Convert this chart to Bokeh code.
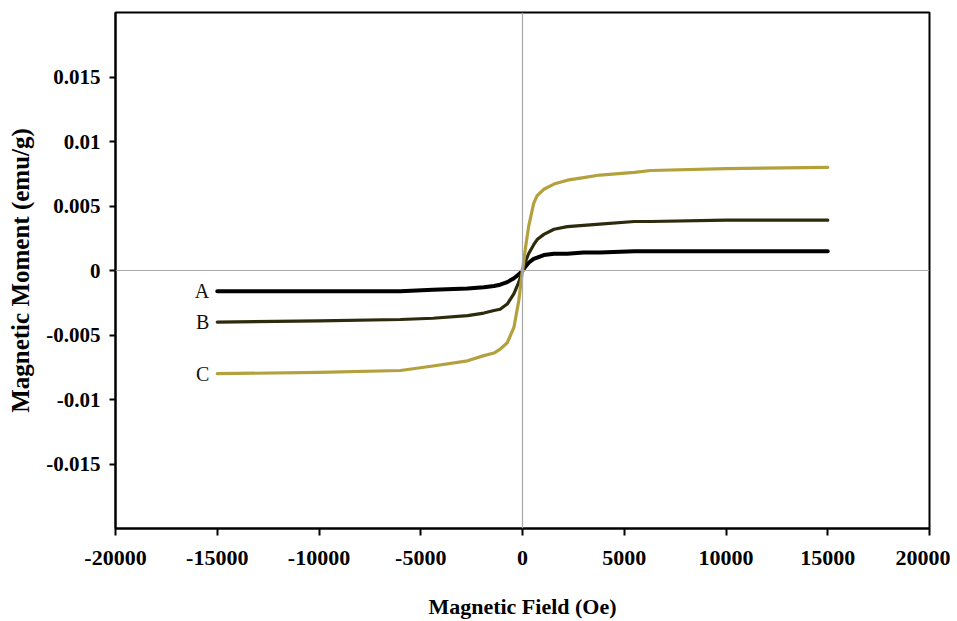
from bokeh.plotting import figure
from bokeh.models import FixedTicker, Span, Range1d
from bokeh.core.properties import value
from bokeh.embed import file_html
from bokeh.resources import INLINE

# Magnetic field (Oe)
field = [-15000, -10000, -6000, -4400, -2700, -1900, -1400, -1100, -750, -420, -180, 0,
         150, 300, 550, 720, 1050, 1550, 2200, 3000, 3800, 5500, 6300, 10000, 15000]

# Magnetic moment (emu/g)
moment_a = [-0.0016, -0.0016, -0.0016, -0.0015, -0.0014, -0.0013, -0.0012, -0.0011, -0.0009,
            -0.0006, -0.0003, 0.0, 0.0003, 0.0006, 0.0009, 0.0010, 0.0012, 0.0013, 0.0013,
            0.0014, 0.0014, 0.0015, 0.0015, 0.0015, 0.0015]
moment_b = [-0.0040, -0.0039, -0.0038, -0.0037, -0.0035, -0.0033, -0.0031, -0.0030, -0.0026,
            -0.0018, -0.0009, 0.0, 0.0007, 0.0013, 0.0020, 0.0024, 0.0028, 0.0032, 0.0034,
            0.0035, 0.0036, 0.0038, 0.0038, 0.0039, 0.0039]
moment_c = [-0.0080, -0.0079, -0.00775, -0.0074, -0.0070, -0.0066, -0.0064, -0.0061, -0.0056,
            -0.0044, -0.0023, 0.0, 0.0018, 0.0034, 0.0052, 0.0058, 0.0063, 0.0067, 0.0070,
            0.0072, 0.0074, 0.0076, 0.00775, 0.0079, 0.0080]

series_names = ["A", "B", "C"]

x_ticks = [-20000, -15000, -10000, -5000, 0, 5000, 10000, 15000, 20000]
x_tick_labels = ["-20000", "-15000", "-10000", "-5000", "0", "5000", "10000", "15000", "20000"]
y_ticks = [-0.015, -0.01, -0.005, 0, 0.005, 0.01, 0.015]
y_tick_labels = ["-0.015", "-0.01", "-0.005", "0", "0.005", "0.01", "0.015"]

SERIF = "Liberation Serif"

p = figure(width=950, height=621, output_backend="svg", toolbar_location=None,
           x_range=Range1d(-20000, 20000), y_range=Range1d(-0.02, 0.02),
           min_border_left=115, min_border_right=21, min_border_top=12, min_border_bottom=93)

p.background_fill_color = "white"
p.border_fill_color = "white"
p.outline_line_color = "black"
p.outline_line_width = 2
p.xgrid.visible = False
p.ygrid.visible = False

p.add_layout(Span(location=0, dimension="height", line_color="#a8a8a8", line_width=1.2))
p.add_layout(Span(location=0, dimension="width", line_color="#a8a8a8", line_width=1.2))

colors = ["#000000", "#2e2a0c", "#b3a13e"]
widths = [4, 3.2, 3.2]
for ys, c, w in zip([moment_a, moment_b, moment_c], colors, widths):
    p.line(field, ys, line_color=c, line_width=w, line_cap="round", line_join="round")

p.text(x=[field[0]] * 3, y=[moment_a[0], moment_b[0], moment_c[0]], text=series_names,
       x_offset=-8, text_align="right", text_baseline="middle",
       text_font=value(SERIF), text_font_size="20px", text_color="#111111")

xa = p.xaxis[0]
xa.ticker = FixedTicker(ticks=x_ticks)
xa.major_label_overrides = {t: l for t, l in zip(x_ticks, x_tick_labels)}
xa.minor_tick_line_color = None
xa.major_tick_out = 7
xa.major_tick_in = 0
xa.major_tick_line_width = 2
xa.axis_line_width = 2
xa.axis_line_color = "black"
xa.major_label_standoff = 15
xa.major_label_text_font = SERIF
xa.major_label_text_font_style = "bold"
xa.major_label_text_font_size = "22px"
xa.major_label_text_color = "black"
xa.axis_label = "Magnetic Field (Oe)"
xa.axis_label_text_font = SERIF
xa.axis_label_text_font_style = "bold"
xa.axis_label_text_font_size = "22px"
xa.axis_label_text_color = "black"
xa.axis_label_standoff = 26

ya = p.yaxis[0]
ya.ticker = FixedTicker(ticks=y_ticks)
ya.major_label_overrides = {t: l for t, l in zip(y_ticks, y_tick_labels)}
ya.minor_tick_line_color = None
ya.major_tick_out = 6
ya.major_tick_in = 0
ya.major_tick_line_width = 2
ya.axis_line_width = 2
ya.axis_line_color = "black"
ya.major_label_standoff = 9
ya.major_label_text_font = SERIF
ya.major_label_text_font_style = "bold"
ya.major_label_text_font_size = "21px"
ya.major_label_text_color = "black"
ya.axis_label = "Magnetic Moment (emu/g)"
ya.axis_label_text_font = SERIF
ya.axis_label_text_font_style = "bold"
ya.axis_label_text_font_size = "25px"
ya.axis_label_text_color = "black"
ya.axis_label_standoff = 9

open("out.html", "w").write(file_html(p, INLINE))
